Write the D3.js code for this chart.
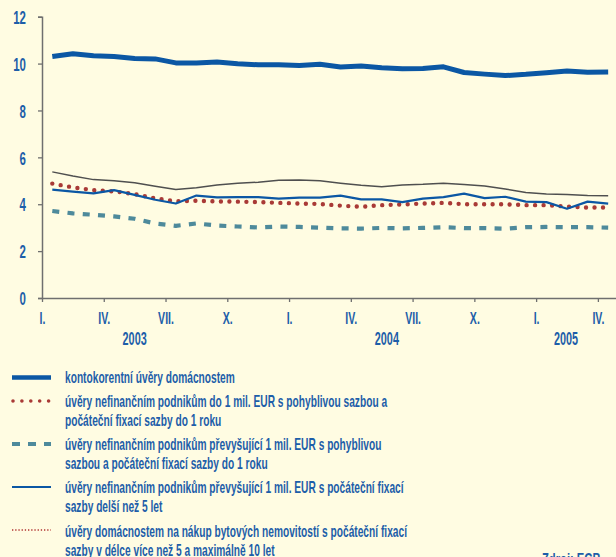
<!DOCTYPE html>
<html>
<head>
<meta charset="utf-8">
<script src="https://cdn.jsdelivr.net/npm/d3@7"></script>
<style>
  body { margin: 0; background: #fffce2; }
  svg { display: block; font-family: "Liberation Sans", Arial, sans-serif; font-weight: bold; }
  .lbl { fill: #1d5ea9; }
</style>
</head>
<body>
<div class="chart"></div>
<script>
// Chart size
var svgWidth = 616;
var svgHeight = 557;

// monthly data, I.2003 - IV.2005
var overdrafts = [10.3, 10.42, 10.33, 10.3, 10.22, 10.2, 10.03, 10.02, 10.07, 9.99, 9.95, 9.95, 9.92, 9.97,
  9.85, 9.9, 9.82, 9.78, 9.79, 9.86, 9.62, 9.55, 9.49, 9.54, 9.61, 9.68, 9.63, 9.64];
var smallFloating = [4.88, 4.72, 4.6, 4.55, 4.43, 4.25, 4.13, 4.15, 4.12, 4.11, 4.09, 4.06, 4.03, 4.01,
  3.94, 3.89, 3.96, 3.99, 4.03, 4.06, 4.0, 4.0, 4.0, 3.96, 3.96, 3.9, 3.86, 3.86];
var largeFloating = [3.71, 3.61, 3.55, 3.48, 3.38, 3.18, 3.08, 3.18, 3.09, 3.05, 3.01, 3.05, 3.03, 3.0,
  2.97, 2.96, 2.99, 2.97, 2.99, 3.02, 2.98, 2.98, 2.96, 3.02, 3.03, 3.02, 3.02, 3.0];
var largeFixed = [4.62, 4.54, 4.46, 4.6, 4.4, 4.19, 4.03, 4.37, 4.29, 4.3, 4.3, 4.24, 4.28, 4.28,
  4.37, 4.21, 4.21, 4.09, 4.24, 4.3, 4.45, 4.26, 4.32, 4.11, 4.09, 3.81, 4.11, 4.03];
var housePurchase = [5.38, 5.2, 5.05, 5.0, 4.92, 4.77, 4.63, 4.7, 4.82, 4.89, 4.94, 5.02, 5.03, 5.0,
  4.9, 4.81, 4.75, 4.82, 4.85, 4.9, 4.84, 4.78, 4.65, 4.5, 4.44, 4.41, 4.37, 4.36];

var monthTicks = ["I.", "IV.", "VII.", "X.", "I.", "IV.", "VII.", "X.", "I.", "IV."];
var years = ["2003", "2004", "2005"];
var yearAnchor = [4.5, 16.75, 25.45]; // month index under which the year label sits
var yTicks = [0, 2, 4, 6, 8, 10, 12];

var legendText = [
  ["kontokorentní úvěry domácnostem"],
  ["úvěry nefinančním podnikům do 1 mil. EUR s pohyblivou sazbou a", "počáteční fixací sazby do 1 roku"],
  ["úvěry nefinančním podnikům převyšující 1 mil. EUR s pohyblivou", "sazbou a počáteční fixací sazby do 1 roku"],
  ["úvěry nefinančním podnikům převyšující 1 mil. EUR s počáteční fixací", "sazby delší než 5 let"],
  ["úvěry domácnostem na nákup bytových nemovitostí s počáteční fixací", "sazby v délce více než 5 a maximálně 10 let"]
];

var series = [
  { values: overdrafts, stroke: "#0b57a4", width: 5, dash: null, cap: "butt" },
  { values: smallFloating, stroke: "#a93a36", width: 4.4, dash: "0 8.5", cap: "round" },
  { values: largeFloating, stroke: "#4e8a9b", width: 4.2, dash: "7 8.3", cap: "butt" },
  { values: largeFixed, stroke: "#0b57a4", width: 2.2, dash: null, cap: "butt" },
  { values: housePurchase, stroke: "#4f4f4f", width: 1.5, dash: null, cap: "butt" }
];
// legend symbols (the last one differs from its line in the plot)
var legendSym = [
  { stroke: "#0b57a4", width: 4.5, dash: null, cap: "butt" },
  { stroke: "#a93a36", width: 3.6, dash: "0 8.9", cap: "round" },
  { stroke: "#4e8a9b", width: 4, dash: "8 8", cap: "butt" },
  { stroke: "#0b57a4", width: 2, dash: null, cap: "butt" },
  { stroke: "#b03030", width: 1.4, dash: "1.3 1.9", cap: "butt" }
];

// squeeze text horizontally, the original font is a condensed one
function squeeze(sel, f) {
  sel.each(function() {
    var t = d3.select(this);
    var tx = +t.attr("x") || 0, ty = +t.attr("y") || 0;
    t.attr("x", 0).attr("y", 0)
      .attr("transform", "translate(" + tx + "," + ty + ") scale(" + f + ",1)");
  });
}

var svg = d3.select(".chart")
  .append("svg")
  .attr("width", svgWidth)
  .attr("height", svgHeight);

var x = d3.scaleLinear().domain([0, 27.88]).range([42, 616]);
var y = d3.scaleLinear().domain([0, 12]).range([298, 16.7]);

// Y axis
var yAxis = d3.axisLeft(y).tickValues(yTicks).tickSize(4).tickPadding(12);
var gy = svg.append("g")
  .attr("transform", "translate(42,0)")
  .call(yAxis);
gy.select(".domain").attr("stroke", "#6f6f6f").attr("stroke-width", 1.5);
gy.selectAll(".tick line").attr("stroke", "#6f6f6f").attr("stroke-width", 1.3);
gy.selectAll(".tick text")
  .attr("class", "lbl")
  .style("font-size", "18.5px")
  .attr("dy", "0.36em")
  .call(squeeze, 0.62);

// X axis
var xAxis = d3.axisBottom(x)
  .tickValues(d3.range(0, 28, 3))
  .tickFormat(function(d, i) { return monthTicks[i]; })
  .tickSize(4)
  .tickPadding(10)
  .tickSizeOuter(0);
var gx = svg.append("g")
  .attr("transform", "translate(0,298)")
  .call(xAxis);
gx.select(".domain").attr("stroke", "#6f6f6f").attr("stroke-width", 1.5);
gx.selectAll(".tick line").attr("stroke", "#6f6f6f").attr("stroke-width", 1.3);
gx.selectAll(".tick text")
  .attr("class", "lbl")
  .style("font-size", "16.5px")
  .call(squeeze, 0.64);

// year labels
svg.selectAll(".year")
  .data(years)
  .enter().append("text")
  .attr("class", "lbl")
  .attr("x", function(d, i) { return x(yearAnchor[i]); })
  .attr("y", 345)
  .attr("text-anchor", "middle")
  .style("font-size", "17.5px")
  .text(function(d) { return d; })
  .call(squeeze, 0.62);

// lines, points at mid month
var line = d3.line()
  .x(function(d, i) { return x(i + 0.5); })
  .y(function(d) { return y(d); });

var drawOrder = [4, 2, 1, 3, 0];
drawOrder.forEach(function(k) {
  var s = series[k];
  svg.append("path")
    .datum(s.values)
    .attr("d", line)
    .attr("fill", "none")
    .attr("stroke", s.stroke)
    .attr("stroke-width", s.width)
    .attr("stroke-linecap", s.cap)
    .attr("stroke-linejoin", "round")
    .attr("stroke-dasharray", s.dash);
});

// legend
var symY = [377.5, 401, 444, 487, 530];
var textY = [383, 407, 450, 493, 536.5];
var lg = svg.selectAll(".leg")
  .data(legendText)
  .enter().append("g");

lg.append("line")
  .attr("x1", function(d, i) { return i == 1 ? 13 : 12; })
  .attr("x2", 51)
  .attr("y1", function(d, i) { return symY[i]; })
  .attr("y2", function(d, i) { return symY[i]; })
  .attr("stroke", function(d, i) { return legendSym[i].stroke; })
  .attr("stroke-width", function(d, i) { return legendSym[i].width; })
  .attr("stroke-linecap", function(d, i) { return legendSym[i].cap; })
  .attr("stroke-dasharray", function(d, i) { return legendSym[i].dash; });

var legTexts = lg.append("text")
  .attr("class", "lbl")
  .attr("x", 65)
  .attr("y", function(d, i) { return textY[i]; })
  .style("font-size", "16.5px");
legTexts.each(function(d) {
  var t = d3.select(this);
  d.forEach(function(s, j) {
    t.append("tspan").attr("x", 0).attr("dy", j == 0 ? 0 : 19.3).text(s);
  });
});
// make the first legend line as wide as in the original (170px)
var w0 = legTexts.node().getComputedTextLength();
legTexts.call(squeeze, 170 / w0);
legTexts.selectAll("tspan").attr("x", 0);

// source, cut off at the bottom edge
svg.append("text")
  .attr("class", "lbl")
  .attr("x", 542)
  .attr("y", 565)
  .style("font-size", "16.5px")
  .text("Zdroj: ECB")
  .call(squeeze, 0.68);
</script>
</body>
</html>
